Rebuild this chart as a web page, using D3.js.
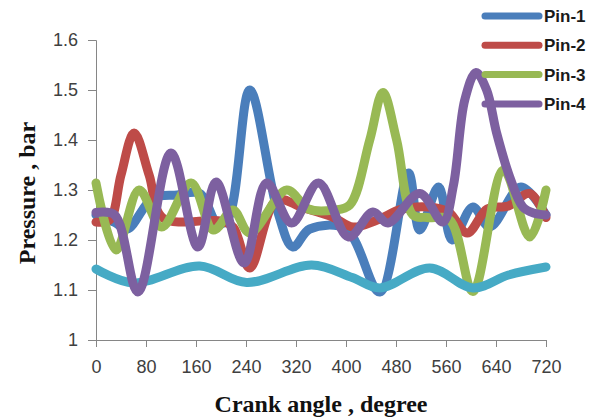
<!DOCTYPE html>
<html>
<head>
<meta charset="utf-8">
<script src="https://cdn.jsdelivr.net/npm/d3@7"></script>
<style>
  body { margin: 0; background: #fff; }
</style>
</head>
<body>
<div id="chart"></div>
<script>
const width = 598, height = 420
const margin = { top: 40, right: 52, bottom: 80, left: 96 }
const innerWidth = width - margin.left - margin.right
const innerHeight = height - margin.top - margin.bottom

// [crank angle, pressure]
const pin1 = [[0,1.25],[30,1.235],[50,1.222],[91,1.284],[130,1.29],[166,1.293],[195,1.232],[212,1.245],[246,1.50],[290,1.26],[315,1.186],[342,1.222],[400,1.222],[454,1.096],[500,1.334],[518,1.22],[548,1.306],[570,1.20],[603,1.266],[630,1.226],[680,1.306],[720,1.25]]
const pin2 = [[0,1.236],[22,1.24],[40,1.33],[61,1.414],[85,1.33],[107,1.244],[200,1.238],[220,1.225],[246,1.144],[289,1.28],[330,1.265],[380,1.245],[411,1.226],[450,1.24],[490,1.262],[540,1.265],[565,1.255],[594,1.214],[626,1.262],[660,1.268],[694,1.293],[720,1.245]]
const pin3 = [[0,1.314],[32,1.18],[69,1.30],[105,1.226],[152,1.314],[188,1.22],[219,1.26],[246,1.214],[305,1.30],[340,1.262],[380,1.26],[406,1.27],[438,1.40],[459,1.495],[481,1.40],[507,1.25],[530,1.245],[566,1.24],[603,1.097],[652,1.34],[694,1.206],[720,1.30]]
const pin4 = [[0,1.255],[30,1.25],[67,1.096],[120,1.374],[163,1.186],[192,1.316],[237,1.154],[273,1.314],[313,1.234],[356,1.314],[404,1.206],[443,1.256],[467,1.234],[518,1.293],[555,1.236],[572,1.31],[590,1.48],[608,1.535],[625,1.50],[641,1.414],[662,1.326],[683,1.266],[700,1.254],[720,1.25]]
const pin5 = [[0,1.142],[59,1.114],[166,1.148],[241,1.115],[345,1.15],[410,1.125],[454,1.104],[534,1.144],[603,1.104],[660,1.13],[720,1.146]]

const legendNames = ['Pin-1', 'Pin-2', 'Pin-3', 'Pin-4']
const colors = ['#4a7ebb', '#be4b48', '#98b954', '#7d60a0', '#46aac5']
const xTicks = [0, 80, 160, 240, 320, 400, 480, 560, 640, 720]
const yTicks = [1, 1.1, 1.2, 1.3, 1.4, 1.5, 1.6]

const xScale = d3.scaleLinear().domain([0, 720]).range([0, innerWidth])
const yScale = d3.scaleLinear().domain([1, 1.6]).range([innerHeight, 0])

const svg = d3.select('#chart').append('svg')
              .attr('width', width)
              .attr('height', height)
              .style('font-family', 'Liberation Sans, Arial, sans-serif')

const graph = svg.append('g')
                 .attr('transform', `translate(${margin.left}, ${margin.top})`)

// x axis
graph.append('g')
     .attr('transform', `translate(0, ${innerHeight})`)
     .call(d3.axisBottom(xScale).tickValues(xTicks).tickSize(7).tickPadding(13).tickFormat(d3.format('d')))

// y axis
graph.append('g')
     .call(d3.axisLeft(yScale).tickValues(yTicks).tickSize(8).tickPadding(10).tickFormat(d => d === 1 ? '1' : d3.format('.1f')(d)))

graph.selectAll('.domain, .tick line').attr('stroke', '#868686')
graph.selectAll('.tick text').style('font-size', '18px').style('fill', '#404040')

// legend
const legend = svg.append('g')
legendNames.forEach((name, i) => {
    const y = 16 + i * 29.3
    legend.append('line')
          .attr('x1', 485).attr('x2', 539)
          .attr('y1', y).attr('y2', y)
          .attr('stroke', colors[i])
          .attr('stroke-width', 7)
          .attr('stroke-linecap', 'round')
    legend.append('text')
          .attr('x', 544).attr('y', y + 6)
          .text(name)
          .style('font-size', '17px')
          .style('font-weight', '700')
          .style('fill', '#1a1a1a')
})

const line = d3.line()
               .x(d => xScale(d[0]))
               .y(d => yScale(d[1]))
               .curve(d3.curveCatmullRom.alpha(0.5))

// drawing order as in the picture
const series = [
    { data: pin1, color: colors[0] },
    { data: pin2, color: colors[1] },
    { data: pin3, color: colors[2] },
    { data: pin5, color: colors[4] },
    { data: pin4, color: colors[3] }
]

series.forEach(s => {
    graph.append('path')
         .datum(s.data)
         .attr('d', line)
         .attr('fill', 'none')
         .attr('stroke', s.color)
         .attr('stroke-width', 9)
         .attr('stroke-linejoin', 'round')
         .attr('stroke-linecap', 'round')
})

// axis titles
svg.append('text')
   .text('Crank angle , degree')
   .attr('text-anchor', 'middle')
   .attr('x', 321)
   .attr('y', 412)
   .style('font-family', 'Liberation Serif, Times New Roman, serif')
   .style('font-size', '24px')
   .style('font-weight', '700')
   .style('fill', '#111')

svg.append('text')
   .text('Pressure , bar')
   .attr('text-anchor', 'middle')
   .attr('transform', 'translate(35, 193) rotate(-90)')
   .style('font-family', 'Liberation Serif, Times New Roman, serif')
   .style('font-size', '24px')
   .style('font-weight', '700')
   .style('fill', '#111')
</script>
</body>
</html>
